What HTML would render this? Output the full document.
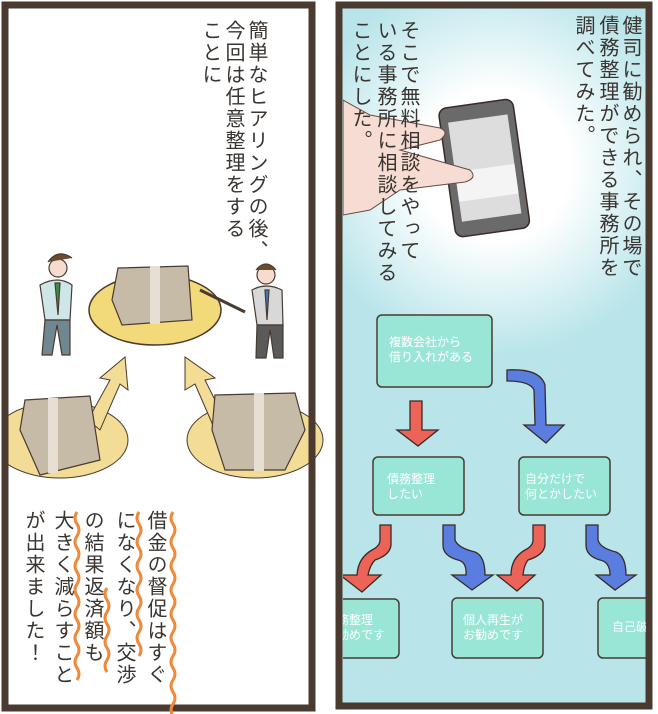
<!DOCTYPE html>
<html><head><meta charset="utf-8"><style>
body{margin:0;width:658px;height:714px;background:#fff;position:relative;overflow:hidden;font-family:"Liberation Sans","Noto Sans CJK JP",sans-serif}
.v{position:absolute;writing-mode:vertical-rl;font-family:"Liberation Sans","Noto Sans CJK JP",sans-serif;color:#3a3530;font-size:20px;line-height:23px;letter-spacing:2px;white-space:nowrap}
.b{position:absolute;color:#fff;font-size:12px;line-height:15px;white-space:nowrap}
</style></head><body>
<svg width="658" height="714" style="position:absolute;left:0;top:0">
<defs>
<radialGradient id="g" cx="495" cy="165" r="190" gradientUnits="userSpaceOnUse"><stop offset="0" stop-color="#fff"/><stop offset="0.4" stop-color="#fff"/><stop offset="1" stop-color="#b9e5ea"/></radialGradient>
<clipPath id="rp"><rect x="343" y="9" width="303" height="694"/></clipPath>
</defs>
<!-- left panel -->
<rect x="5" y="5" width="307" height="703" fill="#fff" stroke="#4a3a30" stroke-width="7"/>
<!-- right panel -->
<rect x="339" y="5" width="310" height="701" fill="#b9e5ea" stroke="#4a3a30" stroke-width="7"/>
<g clip-path="url(#rp)">
<rect x="343" y="9" width="303" height="694" fill="url(#g)"/>
<!-- phone -->
<g transform="rotate(-8 485 170)"><rect x="447" y="103" width="75" height="130" rx="8" fill="#6a6a6a" stroke="#3a2a25" stroke-width="1.5"/><rect x="455" y="118" width="60" height="100" fill="#ddd"/><rect x="455" y="168" width="60" height="30" fill="#f4f4f4"/></g>
<!-- hand -->
<path d="M343 100 L370 115 L440 128 Q450 132 440 140 L400 150 L470 170 Q478 178 465 182 L400 190 L370 210 L343 215Z" fill="#f7dcd4" stroke="#6a4a40" stroke-width="1"/>
<!-- flowchart boxes -->
<g fill="#9ae6d6" stroke="#4a3a30" stroke-width="1.5">
<rect x="377" y="315" width="115" height="72" rx="5"/>
<rect x="373" y="457" width="91" height="58" rx="5"/>
<rect x="519" y="457" width="91" height="58" rx="5"/>
<rect x="320" y="599" width="79" height="59" rx="5"/>
<rect x="452" y="598" width="91" height="60" rx="5"/>
<rect x="598" y="598" width="70" height="60" rx="5"/>
</g>
<!-- arrows -->
<g stroke="#3a2a25" stroke-width="1.3">
<path d="M410 401 L422 401 L422 430 L438 430 L418 446 L397 430 L410 430Z" fill="#ec6358"/>
<path d="M507 370 Q540 368 545 385 L546 425 L564 425 L546 443 L524 425 L535 425 L534 390 Q530 381 507 381Z" fill="#5a7ee0"/>
<path d="M380 525 L391 525 L391 545 Q390 555 375 560 Q370 565 368 575 L381 575 L362 592 L340 575 L357 575 Q358 558 372 550 Q380 546 380 540Z" fill="#ec6358"/>
<path d="M443 525 L455 525 L455 540 Q458 548 475 552 Q485 556 485 575 L493 575 L472 590 L452 575 L466 575 Q467 562 458 560 Q443 556 443 545Z" fill="#5a7ee0"/>
<path d="M533 525 L545 525 L545 545 Q544 555 528 560 Q524 565 523 575 L535 575 L517 591 L497 575 L511 575 Q511 558 525 550 Q533 546 533 540Z" fill="#ec6358"/>
<path d="M586 525 L598 525 L598 540 Q600 548 616 552 Q626 556 626 575 L636 575 L615 590 L596 575 L610 575 Q610 562 600 560 Q586 556 586 545Z" fill="#5a7ee0"/>
</g>
</g>
<!-- left figures: ellipses -->
<ellipse cx="155" cy="310" rx="66" ry="35" fill="#f2d97a" stroke="#4a3a30" stroke-width="1.5"/>
<ellipse cx="60" cy="440" rx="68" ry="38" fill="#f2dc96" stroke="#4a3a30" stroke-width="1"/>
<ellipse cx="255" cy="440" rx="68" ry="38" fill="#f2dc96" stroke="#4a3a30" stroke-width="1"/>
<rect x="0" y="380" width="2" height="120" fill="#fff"/>
<path d="M88 420 L110 380 L100 378 L125 357 L128 390 L120 384 L100 430Z" fill="#f2dc96" stroke="#4a3a30"/>
<path d="M225 420 L205 380 L215 378 L185 357 L185 390 L195 384 L215 430Z" fill="#f2dc96" stroke="#4a3a30"/>
<g fill="#c6bba7" stroke="#4a3a30" stroke-width="1.2">
<path d="M118 268 L188 266 L192 320 L122 325 L112 300Z"/>
<path d="M25 400 L90 396 L100 460 L40 475 L20 430Z"/>
<path d="M215 395 L295 393 L305 430 L285 470 L225 470 L212 430Z"/>
</g>
<g fill="#e6dfd2"><rect x="150" y="266" width="10" height="58"/><rect x="48" y="398" width="10" height="75"/><rect x="254" y="393" width="10" height="78"/></g>
<!-- left/right panel borders redraw over ellipses -->
<rect x="5" y="5" width="307" height="703" fill="none" stroke="#4a3a30" stroke-width="7"/>
<rect x="339" y="5" width="310" height="701" fill="none" stroke="#4a3a30" stroke-width="7"/>
<!-- people -->
<g stroke="#4a3a30" stroke-width="1.2">
<circle cx="58" cy="268" r="9" fill="#f6dccf"/><path d="M48 262 Q58 248 72 258" fill="#6b4a30"/>
<path d="M40 285 Q58 275 72 285 L70 320 L45 320Z" fill="#cfe6e8"/>
<path d="M45 320 L42 355 L52 355 L57 325 L62 355 L70 355 L70 320Z" fill="#6f8791"/>
<path d="M55 283 L60 283 L58 315Z" fill="#3c8c4a"/>
<circle cx="266" cy="275" r="9" fill="#f6dccf"/><path d="M256 270 Q266 258 276 270" fill="#6b4a30"/>
<path d="M252 290 Q266 282 282 290 L283 325 L257 325Z" fill="#d8d8d8"/>
<path d="M257 325 L256 358 L266 358 L270 330 L274 358 L283 358 L283 325Z" fill="#5a5a58"/>
<path d="M265 290 L269 290 L267 320Z" fill="#3a7ac0"/>
<line x1="200" y1="290" x2="245" y2="312" stroke="#4a3a30" stroke-width="3"/>
</g>
<!-- orange wavy lines -->
<g fill="none" stroke="#ef8a3a" stroke-width="3">
<path d="M173 512 q-4 6 0 12 q4 6 0 12 q-4 6 0 12 q4 6 0 12 q-4 6 0 12 q4 6 0 12 q-4 6 0 12 q4 6 0 12 q-4 6 0 12 q4 6 0 12 q-4 6 0 12 q4 6 0 12 q-4 6 0 12 q4 6 0 12 q-4 6 0 12 q4 6 0 12 q-4 6 0 12"/>
<path d="M139 512 q-4 6 0 12 q4 6 0 12 q-4 6 0 12 q4 6 0 12 q-4 6 0 12 q4 6 0 12 q-4 6 0 12 q4 6 0 12 q-4 6 0 12 q4 6 0 12 q-4 6 0 12 q4 6 0 12"/>
<path d="M107 588 q-4 6 0 12 q4 6 0 12 q-4 6 0 12 q4 6 0 12 q-4 6 0 12 q4 6 0 12 q-4 6 0 12"/>
<path d="M77 512 q-4 6 0 12 q4 6 0 12 q-4 6 0 12 q4 6 0 12 q-4 6 0 12 q4 6 0 12 q-4 6 0 12 q4 6 0 12 q-4 6 0 12 q4 6 0 12 q-4 6 0 12 q4 6 0 12 q-4 6 0 12 q4 6 0 12"/>
</g>
</svg>
<div class="v" style="left:244px;top:20px">簡単なヒアリングの後、</div>
<div class="v" style="left:221px;top:20px">今回は任意整理をする</div>
<div class="v" style="left:198px;top:20px">ことに</div>
<div class="v" style="left:143px;top:510px">借金の督促はすぐ</div>
<div class="v" style="left:112px;top:510px">になくなり、交渉</div>
<div class="v" style="left:80px;top:510px">の結果返済額も</div>
<div class="v" style="left:50px;top:510px">大きく減らすこと</div>
<div class="v" style="left:21px;top:510px">が出来ました！</div>
<div class="v" style="left:618px;top:15px">健司に勧められ、その場で</div>
<div class="v" style="left:595px;top:15px">債務整理ができる事務所を</div>
<div class="v" style="left:571px;top:15px">調べてみた。</div>
<div class="v" style="left:396px;top:20px">そこで無料相談をやって</div>
<div class="v" style="left:373px;top:20px">いる事務所に相談してみる</div>
<div class="v" style="left:348px;top:20px">ことにした。</div>
<div class="b" style="left:389px;top:335px">複数会社から<br>借り入れがある</div>
<div class="b" style="left:387px;top:472px">債務整理<br>したい</div>
<div class="b" style="left:525px;top:472px">自分だけで<br>何とかしたい</div>
<div style="position:absolute;left:343px;top:605px;width:56px;height:50px;overflow:hidden"><div class="b" style="left:-6px;top:8px">務整理<br>勧めです</div></div>
<div class="b" style="left:463px;top:613px">個人再生が<br>お勧めです</div>
<div style="position:absolute;left:600px;top:605px;width:46px;height:50px;overflow:hidden"><div class="b" style="left:12px;top:15px">自己破</div></div>
</body></html>
